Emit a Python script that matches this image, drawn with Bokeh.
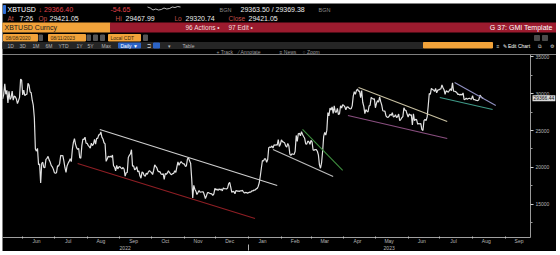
import pandas as pd
from bokeh.plotting import figure
from bokeh.models import (ColumnDataSource, LinearAxis, DatetimeAxis, FixedTicker,
                          Range1d, Label, DatetimeTickFormatter)
from bokeh.layouts import column
from bokeh.embed import file_html
from bokeh.resources import INLINE
from bokeh.core.properties import value

# ---------------- data (XBTUSD daily) ----------------
may22 = [29280, 29860, 31310, 29900, 30420, 28720, 30300, 29200, 29430, 30320, 29100, 29650,
         29560, 29270, 28630, 29030, 29470, 31950, 31800]
jun22 = [29800, 30450, 29700, 29860, 29910, 31370, 31130, 30210, 30110, 29090, 28420, 26760,
         22490, 22210, 22580, 20380, 20470, 17900, 20550, 20710, 20000, 19970, 21100, 21230,
         21500, 21030, 20730, 20280, 20100, 19780]
jul22 = [19300, 19240, 19300, 20230, 20190, 20550, 21640, 21590, 21600, 20860, 19970, 19330,
         20210, 20570, 20830, 21190, 20790, 22430, 23390, 23900, 23160, 22680, 22450, 22580,
         21310, 21250, 22950, 23850, 23780, 24100, 23300]
aug22 = [23270, 22990, 22820, 22630, 23290, 22960, 23170, 23810, 23160, 23950, 23930, 24400,
         24440, 24800, 24100, 23850, 23340, 23190, 20830, 21140, 21520, 21400, 21530, 21370,
         21680, 20240, 20040, 19550, 20290, 19810, 20050]
sep22 = [20130, 19950, 19830, 20000, 19800, 18840, 19290, 19320, 21360, 21650, 21830, 22400,
         20170, 20230, 19700, 19800, 20110, 19420, 19540, 18880, 18550, 19410, 19300, 18930,
         18800, 19220, 19080, 19410, 19590, 19430]
oct22 = [19310, 19050, 19630, 20340, 20160, 19960, 19530, 19420, 19440, 19130, 19060, 19160,
         18400, 19190, 19070, 19270, 19550, 19330, 19120, 19040, 19170, 19210, 19570, 19330,
         20090, 20770, 20290, 20600, 20810, 20630, 20490]
nov22 = [20480, 20160, 20210, 21150, 21300, 20900, 20590, 18540, 15880, 17590, 17070, 16800,
         16350, 16620, 16900, 16660, 16690, 16700, 16710, 16290, 15790, 16190, 16610, 16600,
         16520, 16460, 16440, 16220, 16440, 17170]
dec22 = [16970, 17090, 16890, 17110, 16970, 17090, 16840, 17230, 17130, 17130, 17090, 17210,
         17780, 18000, 17360, 16630, 16780, 16740, 16440, 16900, 16820, 16830, 16780, 16840,
         16830, 16920, 16710, 16550, 16630, 16600, 16540]
jan23 = [16610, 16670, 16670, 16850, 16830, 16950, 16950, 17090, 17180, 17440, 17940, 18850,
         19930, 20950, 20870, 21170, 21160, 20690, 21080, 22680, 22780, 22710, 22920, 22620,
         23060, 23010, 23080, 23030, 23770, 22840, 23140]
feb23 = [23730, 23490, 23430, 23330, 22930, 22760, 23260, 22950, 21800, 21630, 21860, 21790,
         21780, 22200, 24330, 23520, 24570, 24630, 24280, 24840, 24450, 24190, 23950, 23190,
         23160, 23560, 23490, 23140]
mar23 = [23650, 23470, 22360, 22350, 22430, 22410, 22200, 21710, 20360, 19900, 20630, 22160,
         24200, 24750, 24370, 25050, 27420, 26970, 28040, 27770, 28180, 27310, 28330, 27490,
         27490, 27990, 27140, 27270, 28350, 28030, 28480]
apr23 = [28410, 28200, 27800, 28170, 28180, 28040, 27920, 27950, 28330, 29650, 30240, 29890,
         30400, 30600, 30320, 30320, 29450, 30400, 28820, 28250, 27280, 27820, 27600, 27520,
         28310, 28420, 29470, 29340, 29250, 29270]
may23 = [28070, 28680, 29030, 28850, 29540, 28900, 28430, 27670, 27630, 27620, 26990, 26800,
         26780, 26930, 27190, 27040, 27400, 26830, 26890, 27120, 26750, 26850, 27230, 26330,
         26480, 26720, 26870, 28080, 27750, 27700, 27220]
jun23 = [26820, 27250, 27070, 27120, 25760, 27240, 26340, 26500, 26480, 25850, 25940, 25900,
         25920, 25120, 25000, 26330, 26510, 26340, 26840, 28310, 30000, 29890, 30690, 30550,
         30470, 30270, 30690, 30080, 30450, 30480]
jul23 = [30590, 30620, 31160, 30770, 30510, 29900, 30350, 30290, 30170, 30410, 30620, 30390,
         31450, 30320, 30300, 30250, 30140, 29860, 29910, 29800, 29910, 29800, 30080, 29180,
         29230, 29350, 29230, 29320, 29350, 29280, 29230]
aug23 = [29700, 29180, 29180, 29090, 29060, 29040, 29180, 29770, 29570, 29430, 29370]

month_starts = ["2022-05-13", "2022-06-01", "2022-07-01", "2022-08-01", "2022-09-01",
                "2022-10-01", "2022-11-01", "2022-12-01", "2023-01-01", "2023-02-01",
                "2023-03-01", "2023-04-01", "2023-05-01", "2023-06-01", "2023-07-01",
                "2023-08-01"]
month_values = [may22, jun22, jul22, aug22, sep22, oct22, nov22, dec22, jan23, feb23,
                mar23, apr23, may23, jun23, jul23, aug23]

# trend lines drawn on the chart
trend_start_dates = ["2022-08-13", "2022-07-23", "2023-02-21", "2023-01-24",
                     "2023-04-15", "2023-04-05", "2023-07-15", "2023-07-01"]
trend_end_dates = ["2023-01-28", "2023-01-07", "2023-03-31", "2023-03-22",
                   "2023-07-08", "2023-07-08", "2023-08-23", "2023-08-20"]
trend_start_prices = [25140, 20540, 25140, 22430, 30810, 27030, 31490, 29460]
trend_end_prices = [17570, 13110, 19600, 18780, 26220, 23920, 28380, 27840]
trend_colors = ["#cfcfcf", "#8e1e24", "#3f8f3f", "#bdbdbd",
                "#c9c1a2", "#8a4f80", "#8f8fc0", "#3f9a88"]

y_ticks = [15000, 20000, 25000, 30000, 35000]
y_minor = [12500, 17500, 22500, 27500, 32500]
month_label_days = pd.date_range("2022-06-01", "2023-09-01", freq="MS") + pd.Timedelta(days=13)
month_bounds = pd.date_range("2022-06-01", "2023-09-01", freq="MS")
year_label_days = pd.to_datetime(["2022-09-06", "2023-05-14"])
year_bounds = pd.to_datetime(["2023-01-01"])
last_price = 29366.44
spark = [5, 4, 2, 3, 2, 2.5, 4, 3, 3.5, 5, 4.5, 5.5, 5]

# ---------------- series ----------------
dates, prices = [], []
for start, vals in zip(month_starts, month_values):
    d0 = pd.Timestamp(start)
    for i, v in enumerate(vals):
        dates.append(d0 + pd.Timedelta(days=i))
        prices.append(v)
src = ColumnDataSource(dict(date=dates, price=prices))

FONT = "Liberation Sans"

def ms(ts):
    return pd.Timestamp(ts).timestamp() * 1000

# ---------------- header (page px coordinates) ----------------
h = figure(width=554, height=51, x_range=Range1d(2, 556), y_range=Range1d(54, 3),
           output_backend="svg", toolbar_location=None, min_border=0,
           x_axis_location=None, y_axis_location=None,
           background_fill_color="black", border_fill_color="black",
           outline_line_color=None)
h.grid.visible = False

ORANGE = "#f2a33a"
rects = dict(
    l=[3, 2, 110, 3, 38.5, 48, 86.5, 93, 100, 108, 143, 2, 118, 153, 423, 534, 542],
    r=[5, 110, 556, 37, 42, 85, 90, 97, 104, 140, 147, 423, 140, 159, 492, 539, 547],
    t=[5, 22.5, 22.5, 34, 34.5, 34, 34.5, 34.5, 34.5, 34, 34.5, 42, 42.5, 42.5, 42, 35, 35],
    b=[13, 31.5, 31.5, 40.5, 40, 40.5, 40, 40, 40, 40.5, 40, 48, 47.5, 47.5, 47.5, 40, 40],
    c=["#2f6fd8", ORANGE, "#9b1b2e", ORANGE, "#555555", ORANGE, "#555555", "#555555",
       "#555555", ORANGE, "#555555", "#252525", "#2c63c4", "#2c63c4", ORANGE,
       "#4a4a4a", "#4a4a4a"])
h.quad(left="l", right="r", top="t", bottom="b", color="c", source=ColumnDataSource(rects))

LAB = "#c0504a"
VAL = "#ececec"
GR = "#b5b5b5"
TR = "#9a9a9a"
txt = [
    (7, 9, "XBTUSD", "#ffffff", "7px", "left"),
    (38, 9, "\u2193 29366.40", "#e0404c", "7px", "left"),
    (110, 9, "-54.65", "#e0404c", "7px", "left"),
    (219, 9, "BGN", "#8a8a8a", "5.5px", "left"),
    (240, 9, "29363.50 / 29369.38", VAL, "7px", "left"),
    (318, 9, "BGN", "#8a8a8a", "5.5px", "left"),
    (7, 18, "At", LAB, "6.5px", "left"), (19, 18, "7:26", VAL, "7px", "left"),
    (38, 18, "Op", LAB, "6.5px", "left"), (49, 18, "29421.05", VAL, "7px", "left"),
    (115, 18, "Hi", LAB, "6.5px", "left"), (125, 18, "29467.99", VAL, "7px", "left"),
    (174, 18, "Lo", LAB, "6.5px", "left"), (185, 18, "29320.74", VAL, "7px", "left"),
    (228, 18, "Close", LAB, "6.5px", "left"), (248, 18, "29421.05", VAL, "7px", "left"),
    (4, 27, "XBTUSD Curncy", "#1a1a1a", "7px", "left"),
    (185, 27, "96 Actions \u2022", "#f3dede", "6.5px", "left"),
    (228, 27, "97 Edit \u2022", "#f3dede", "6.5px", "left"),
    (552, 27, "G 37: GMI Template", "#ffffff", "7px", "right"),
    (5, 37.3, "08/08/2020", "#3a2a10", "5px", "left"),
    (50, 37.3, "08/11/2023", "#3a2a10", "5px", "left"),
    (110, 37.3, "Local CDT", "#3a2a10", "5px", "left"),
    (7, 45, "1D", GR, "5px", "left"), (19, 45, "3D", GR, "5px", "left"),
    (32, 45, "1M", GR, "5px", "left"), (45, 45, "6M", GR, "5px", "left"),
    (58, 45, "YTD", GR, "5px", "left"), (76, 45, "1Y", GR, "5px", "left"),
    (87, 45, "5Y", GR, "5px", "left"), (101, 45, "Max", GR, "5px", "left"),
    (120, 45, "Daily \u25bc", "#ffffff", "5px", "left"),
    (146, 45, "\u2290", GR, "5px", "left"),
    (167, 45, "\u25be", GR, "5px", "left"),
    (182, 45, "Table", GR, "5px", "left"),
    (496, 45, "\u2261", "#dddddd", "5px", "left"),
    (502, 45, "\u270e Edit Chart", "#ffffff", "5px", "left"),
    (537, 45, "\u29c9", "#dddddd", "5px", "left"),
    (549, 45, "\u2699", "#dddddd", "5px", "left"),
    (216, 51, "+ Track", TR, "5px", "left"),
    (238, 51, "\u2044 Annotate", TR, "5px", "left"),
    (279, 51, "\u2261 News", TR, "5px", "left"),
    (302, 51, "\u25cb Zoom", TR, "5px", "left"),
]
for align in ("left", "right"):
    rows = [t for t in txt if t[5] == align]
    h.text(x=[t[0] for t in rows], y=[t[1] for t in rows], text=[t[2] for t in rows],
           text_color=[t[3] for t in rows], text_font_size=[t[4] for t in rows],
           text_font=value(FONT), text_baseline="middle", text_align=align)

sx = [147 + i * 33 / (len(spark) - 1) for i in range(len(spark))]
sy = [11.5 - v for v in spark]
h.line(sx, sy, color="#e8e8e8", line_width=0.8)

# ---------------- chart ----------------
# The frame fills the whole figure (page x 2..556, y 54..251); axes sit at fixed locations
X0, X1 = "2022-05-12 20:38", "2023-10-19 11:30"
X_AXIS = "2023-09-24 20:40"          # where the price axis line sits (page x 530)
Y0, Y1 = 8648.6, 35270.3
Y_MONTH, Y_YEAR = 10540.5, 9594.6    # page y 237 and 244

p = figure(width=554, height=197, x_axis_type="datetime",
           x_range=Range1d(pd.Timestamp(X0), pd.Timestamp(X1)),
           y_range=Range1d(Y0, Y1),
           output_backend="svg", toolbar_location=None,
           x_axis_location=None, y_axis_location=None, min_border=0,
           background_fill_color="black", border_fill_color="black",
           outline_line_color=None)
p.grid.visible = False

p.line("date", "price", source=src, color="#e2e2e2", line_width=1.2)
p.segment(x0=pd.to_datetime(trend_start_dates), y0=trend_start_prices,
          x1=pd.to_datetime(trend_end_dates), y1=trend_end_prices,
          color=trend_colors, line_width=1.1)

yax = LinearAxis(ticker=FixedTicker(ticks=y_ticks, minor_ticks=y_minor),
                 fixed_location=ms(X_AXIS), bounds=(Y_MONTH, Y1))
yax.axis_line_color = "#9a9a9a"
yax.major_tick_line_color = "#d0d0d0"
yax.major_tick_out = 3
yax.major_tick_in = 0
yax.minor_tick_line_color = "#9a9a9a"
yax.minor_tick_out = 2
yax.minor_tick_in = 0
yax.major_label_standoff = 2
yax.major_label_text_font = FONT
yax.major_label_text_font_size = "5px"
yax.major_label_text_color = "#b8b8b8"
p.add_layout(yax, "right")

fmt_m = "%b"
xax = DatetimeAxis(ticker=FixedTicker(ticks=[ms(d) for d in month_label_days],
                                      minor_ticks=[ms(d) for d in month_bounds]),
                   fixed_location=Y_MONTH, bounds=(ms(X0), ms(X_AXIS)))
xax.formatter = DatetimeTickFormatter(microseconds=fmt_m, milliseconds=fmt_m, seconds=fmt_m,
                                      minsec=fmt_m, minutes=fmt_m, hourmin=fmt_m, hours=fmt_m,
                                      days=fmt_m, months=fmt_m, years=fmt_m)
xax.axis_line_color = "#a0a0a0"
xax.major_tick_line_color = None
xax.major_tick_out = 0
xax.major_tick_in = 0
xax.minor_tick_line_color = "#c0c0c0"
xax.minor_tick_in = 1
xax.minor_tick_out = 1
xax.major_label_standoff = 0
xax.major_label_text_font = FONT
xax.major_label_text_font_size = "5px"
xax.major_label_text_color = "#b8b8b8"
p.add_layout(xax, "below")

fmt_y = "%Y"
yr = DatetimeAxis(ticker=FixedTicker(ticks=[ms(d) for d in year_label_days],
                                     minor_ticks=[ms(d) for d in year_bounds]),
                  fixed_location=Y_YEAR)
yr.formatter = DatetimeTickFormatter(microseconds=fmt_y, milliseconds=fmt_y, seconds=fmt_y,
                                     minsec=fmt_y, minutes=fmt_y, hourmin=fmt_y, hours=fmt_y,
                                     days=fmt_y, months=fmt_y, years=fmt_y)
yr.axis_line_color = None
yr.major_tick_line_color = None
yr.major_tick_out = 0
yr.major_tick_in = 0
yr.minor_tick_line_color = "#b0b0b0"
yr.minor_tick_in = 0
yr.minor_tick_out = 6
yr.major_label_standoff = -4
yr.major_label_text_font = FONT
yr.major_label_text_font_size = "5px"
yr.major_label_text_color = "#b8b8b8"
p.add_layout(yr, "below")

extra = {"padding": 1} if "padding" in Label.properties() else {}
tag = Label(x=530, x_units="screen", y=last_price, y_units="data", text=f"{last_price:.2f}",
            text_color="#111111", text_font_size="5px", text_font=FONT,
            text_baseline="middle", background_fill_color="#d8d8d8", **extra)
p.add_layout(tag)

layout = column(h, p, margin=(3, 0, 0, 2), spacing=0)
open("out.html", "w").write(file_html(layout, INLINE))
